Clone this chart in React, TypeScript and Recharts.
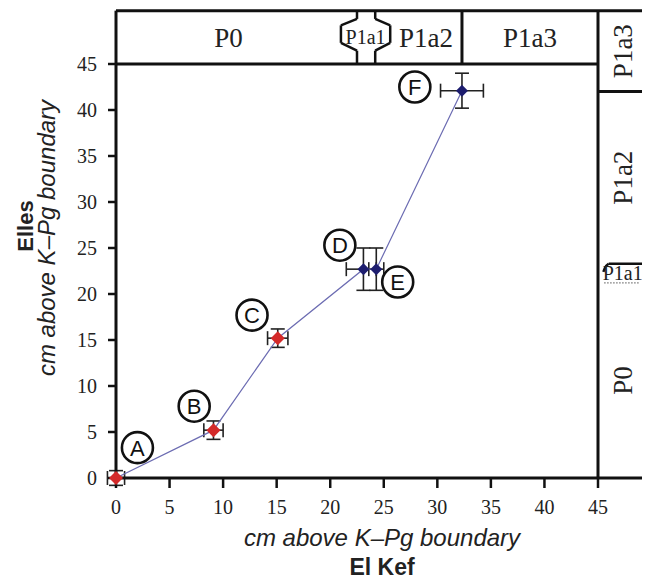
import React from 'react'
import { ScatterChart, Scatter, XAxis, YAxis, ErrorBar, ReferenceLine, ReferenceArea } from 'recharts'

// sample depths, cm above the K–Pg boundary
const sampleIds = ['A', 'B', 'C', 'D', 'E', 'F']
const elKefCm = [0, 9.1, 15.1, 23.1, 24.3, 32.3]
const ellesCm = [0, 5.2, 15.2, 22.7, 22.7, 42.1]
const elKefErrLo = [0.8, 0.9, 0.95, 1.6, 0.7, 2.0]
const elKefErrHi = [0.8, 0.9, 0.95, 1.2, 0.7, 2.0]
const ellesErr = [0.8, 1.0, 1.0, 2.3, 2.3, 1.9]
const sampleGroup = ['red', 'red', 'red', 'navy', 'navy', 'navy']

// circled letters next to the samples
const tagX = [2.0, 7.3, 12.7, 20.9, 26.3, 27.9]
const tagY = [3.3, 7.8, 17.7, 25.3, 21.3, 42.5]

const axisTicks = [0, 5, 10, 15, 20, 25, 30, 35, 40, 45]

// biozones: El Kef across the top, Elles down the right side
const topZoneNames = ['P0', 'P1a1', 'P1a2', 'P1a3']
const topZoneEdges = [0, 21.0, 25.6, 32.3, 45]
const sideZoneNames = ['P0', 'P1a1', 'P1a2', 'P1a3']
const sideZoneEdges = [0, 21.2, 23.3, 42, 50.8]

const FRAME_TOP = 50.8
const FRAME_RIGHT = 50
const SIDE_LABEL_X = [45, 49.6]

// P1a1 bracket outline in the top strip (El Kef cm, Elles cm)
const bracketLeft = [[22.5, 45], [22.5, 46.45], [21.0, 47.3], [21.0, 49.2], [22.5, 49.9], [22.5, FRAME_TOP]]
const bracketRight = [[24.2, 45], [24.2, 46.45], [25.6, 47.3], [25.6, 49.2], [24.2, 49.9], [24.2, FRAME_TOP]]
const sideBracket = [[45.5, 22.4], [45.7, 23.0], [46.0, 23.3], [FRAME_RIGHT, 23.3]]
const sideDotted = [[45.6, 21.2], [48.9, 21.2]]

const frameLines = [
  [[0, FRAME_TOP], [FRAME_RIGHT, FRAME_TOP]],
  [[0, 45], [45, 45]],
  [[0, 45], [0, FRAME_TOP]],
  [[45, 0], [45, FRAME_TOP]],
  [[32.3, 45], [32.3, FRAME_TOP]],
  [[45, 42], [FRAME_RIGHT, 42]],
  [[45, 0], [FRAME_RIGHT, 0]],
]

const toSegments = (pts: number[][]) =>
  pts.slice(1).map((p, i) => [pts[i], p])

const samples = sampleIds.map((id, i) => ({
  id,
  x: elKefCm[i],
  y: ellesCm[i],
  ex: [elKefErrLo[i], elKefErrHi[i]],
  ey: ellesErr[i],
  group: sampleGroup[i],
}))

const tags = sampleIds.map((id, i) => ({ id, x: tagX[i], y: tagY[i] }))

const SERIF = "'Liberation Serif', 'Times New Roman', serif"
const SANS = "'Liberation Sans', Arial, sans-serif"

const SampleMark = (props: any) => {
  const { cx, cy, payload } = props
  const red = payload.group === 'red'
  const r = red ? 7 : 6
  return (
    <path
      d={`M${cx},${cy - r}L${cx + r},${cy}L${cx},${cy + r}L${cx - r},${cy}Z`}
      fill={red ? '#d42a2a' : '#1d1d6e'}
    />
  )
}

const TagMark = (props: any) => {
  const { cx, cy, payload } = props
  return (
    <g>
      <circle cx={cx} cy={cy} r={15.5} fill="none" stroke="#111" strokeWidth={2.6} />
      <text x={cx} y={cy} dy="0.36em" textAnchor="middle" fontSize={22} fontFamily={SANS} fill="#111">
        {payload.id}
      </text>
    </g>
  )
}

const XTitle = (props: any) => {
  const { x, y, width } = props.viewBox
  const cx = x + width / 2 + 25
  return (
    <g>
      <text x={cx} y={y + 68} textAnchor="middle" fontSize={24} fontStyle="italic" fontFamily={SANS} fill="#222">
        cm above K–Pg boundary
      </text>
      <text x={cx} y={y + 97} textAnchor="middle" fontSize={23} fontWeight="bold" fontFamily={SANS} fill="#222">
        El Kef
      </text>
    </g>
  )
}

const YTitle = (props: any) => {
  const { y, height } = props.viewBox
  const cy = y + height / 2 - 33
  return (
    <g>
      <text x={25} y={cy - 12} transform={`rotate(-90 25 ${cy - 12})`} textAnchor="middle" fontSize={22} fontWeight="bold" fontFamily={SANS} fill="#222">
        Elles
      </text>
      <text x={47} y={cy} transform={`rotate(-90 47 ${cy})`} textAnchor="middle" fontSize={24} fontStyle="italic" fontFamily={SANS} fill="#222">
        cm above K–Pg boundary
      </text>
    </g>
  )
}

export default function App() {
  const segs = [
    ...frameLines,
    ...toSegments(bracketLeft),
    ...toSegments(bracketRight),
    ...toSegments(sideBracket),
  ]

  return (
    <div style={{ width: 642, height: 574 }}>
      <style>{'.recharts-surface [clip-path]{clip-path:none}'}</style>
      <ScatterChart width={642} height={574} margin={{ top: 56, right: 52, bottom: 0, left: 0 }}>
        <XAxis
          type="number"
          dataKey="x"
          domain={[0, 45]}
          ticks={axisTicks}
          interval={0}
          allowDataOverflow
          height={104}
          tickSize={10}
          tickMargin={12}
          tick={{ fontSize: 20, fontFamily: SERIF, fill: '#222' }}
          axisLine={{ stroke: '#111', strokeWidth: 3 }}
          tickLine={{ stroke: '#111', strokeWidth: 2.5 }}
          label={{ content: XTitle }}
        />
        <YAxis
          type="number"
          dataKey="y"
          domain={[0, 45]}
          ticks={axisTicks}
          interval={0}
          allowDataOverflow
          width={108}
          tickSize={8}
          tickMargin={11}
          tick={{ fontSize: 20, fontFamily: SERIF, fill: '#222' }}
          axisLine={{ stroke: '#111', strokeWidth: 3 }}
          tickLine={{ stroke: '#111', strokeWidth: 2.5 }}
          label={{ content: YTitle }}
        />

        {topZoneNames.map((name, i) => (
          <ReferenceArea
            key={'t' + name}
            x1={topZoneEdges[i]}
            x2={topZoneEdges[i + 1]}
            y1={45}
            y2={FRAME_TOP}
            ifOverflow="visible"
            fill="none"
            stroke="none"
            label={{
              value: name,
              position: 'center',
              fontSize: name === 'P1a1' ? 20 : 27,
              fontFamily: SERIF,
              fill: '#222',
            }}
          />
        ))}
        {sideZoneNames.map((name, i) => (
          <ReferenceArea
            key={'s' + name}
            x1={SIDE_LABEL_X[0]}
            x2={SIDE_LABEL_X[1]}
            y1={sideZoneEdges[i]}
            y2={sideZoneEdges[i + 1]}
            ifOverflow="visible"
            fill="none"
            stroke="none"
            label={{
              value: name,
              position: 'center',
              angle: name === 'P1a1' ? 0 : -90,
              fontSize: name === 'P1a1' ? 20 : 27,
              fontFamily: SERIF,
              fill: '#222',
            }}
          />
        ))}

        {segs.map((s, i) => (
          <ReferenceLine
            key={'f' + i}
            segment={[{ x: s[0][0], y: s[0][1] }, { x: s[1][0], y: s[1][1] }]}
            ifOverflow="visible"
            stroke="#111"
            strokeWidth={i < frameLines.length ? 3 : 2.5}
          />
        ))}
        <ReferenceLine
          segment={[{ x: sideDotted[0][0], y: sideDotted[0][1] }, { x: sideDotted[1][0], y: sideDotted[1][1] }]}
          ifOverflow="visible"
          stroke="#333"
          strokeWidth={1.2}
          strokeDasharray="1 2"
        />

        <Scatter
          data={samples}
          isAnimationActive={false}
          line={{ stroke: '#6c6cb2', strokeWidth: 1.2 }}
          lineJointType="linear"
          shape={SampleMark}
        >
          <ErrorBar dataKey="ex" direction="x" width={7} stroke="#222" strokeWidth={1.6} isAnimationActive={false} />
          <ErrorBar dataKey="ey" direction="y" width={7} stroke="#222" strokeWidth={1.6} isAnimationActive={false} />
        </Scatter>
        <Scatter data={tags} isAnimationActive={false} shape={TagMark} />
      </ScatterChart>
    </div>
  )
}
